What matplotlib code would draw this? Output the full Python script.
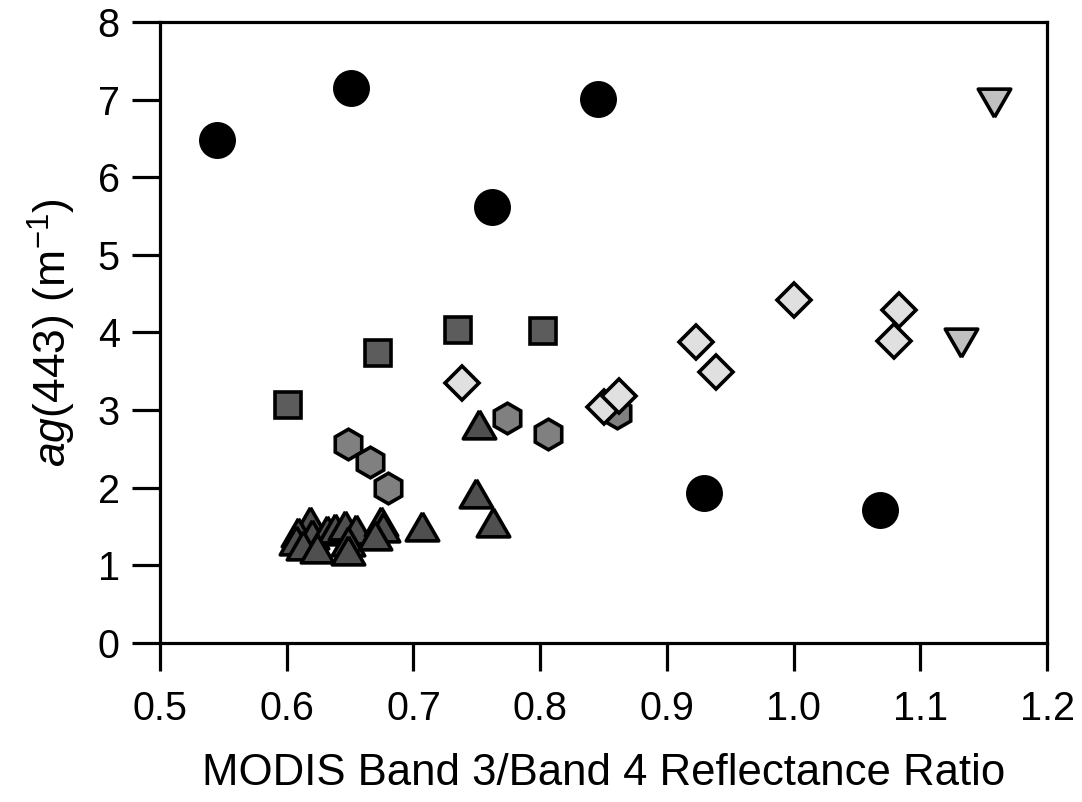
import matplotlib
matplotlib.use('Agg')
import matplotlib.pyplot as plt

plt.rcParams['font.family'] = ['Liberation Sans', 'DejaVu Sans']
plt.rcParams['mathtext.fontset'] = 'custom'
plt.rcParams['mathtext.rm'] = 'Liberation Sans'
plt.rcParams['mathtext.it'] = 'Liberation Sans:italic'

# black circles
circle_x = [0.545, 0.651, 0.846, 0.762, 0.929, 1.068]
circle_y = [6.48, 7.15, 7.01, 5.62, 1.93, 1.71]

# light gray down triangles
down_x = [1.158, 1.132]
down_y = [7.02, 3.93]

# dark squares
square_x = [0.601, 0.672, 0.735, 0.802]
square_y = [3.07, 3.74, 4.03, 4.02]

# light diamonds
diamond_x = [0.738, 0.850, 0.862, 0.923, 0.939, 1.000, 1.079, 1.083]
diamond_y = [3.35, 3.04, 3.18, 3.88, 3.49, 4.42, 3.89, 4.29]

# gray hexagons
hex_x = [0.648, 0.666, 0.680, 0.774, 0.806, 0.861]
hex_y = [2.56, 2.33, 2.00, 2.90, 2.69, 2.96]

# dark up triangles
up_x = [0.752, 0.749, 0.763, 0.707, 0.618, 0.609, 0.607, 0.620, 0.632, 0.638,
        0.646, 0.655, 0.648, 0.648, 0.674, 0.676, 0.613, 0.624, 0.670]
up_y = [2.76, 1.87, 1.49, 1.44, 1.51, 1.37, 1.26, 1.34, 1.39, 1.42,
        1.45, 1.40, 1.25, 1.13, 1.51, 1.43, 1.20, 1.16, 1.33]

tri_up = [(0, 1), (-0.866, -0.5), (0.866, -0.5), (0, 1)]
tri_down = [(0, -1), (0.866, 0.5), (-0.866, 0.5), (0, -1)]

fig = plt.figure(figsize=(10.82, 8.02), dpi=100)
ax = fig.add_axes([0.1479, 0.1983, 0.8198, 0.7743])

ew = 2.6
ax.plot(up_x, up_y, linestyle='none', marker=tri_up, markersize=27,
        markerfacecolor='#4f4f4f', markeredgecolor='black', markeredgewidth=ew)
ax.plot(hex_x, hex_y, linestyle='none', marker='h', markersize=22,
        markerfacecolor='#808080', markeredgecolor='black', markeredgewidth=ew)
ax.plot(square_x, square_y, linestyle='none', marker='s', markersize=19,
        markerfacecolor='#5c5c5c', markeredgecolor='black', markeredgewidth=ew)
ax.plot(diamond_x, diamond_y, linestyle='none', marker='D', markersize=17,
        markerfacecolor='#e0e0e0', markeredgecolor='black', markeredgewidth=ew)
ax.plot(down_x, down_y, linestyle='none', marker=tri_down, markersize=27,
        markerfacecolor='#c0c0c0', markeredgecolor='black', markeredgewidth=ew)
ax.plot(circle_x, circle_y, linestyle='none', marker='o', markersize=24,
        markerfacecolor='black', markeredgecolor='black', markeredgewidth=ew)

ax.set_xlim(0.5, 1.2)
ax.set_ylim(0, 8)
ax.set_xticks([0.5, 0.6, 0.7, 0.8, 0.9, 1.0, 1.1, 1.2])
ax.set_xticklabels(['0.5', '0.6', '0.7', '0.8', '0.9', '1.0', '1.1', '1.2'])
ax.set_yticks(range(0, 9))

for s in ax.spines.values():
    s.set_linewidth(2.3)
ax.tick_params(direction='out', length=20, width=2.3, labelsize=28.5, pad=9)
ax.tick_params(axis='x', pad=14)

ax.set_xlabel('MODIS Band 3/Band 4 Reflectance Ratio', fontsize=31.5, labelpad=18)
ax.set_ylabel(r'$\mathit{ag}\mathrm{(443)\ (m^{-1})}$', fontsize=32, labelpad=14)

fig.savefig('out.png', dpi=100)
